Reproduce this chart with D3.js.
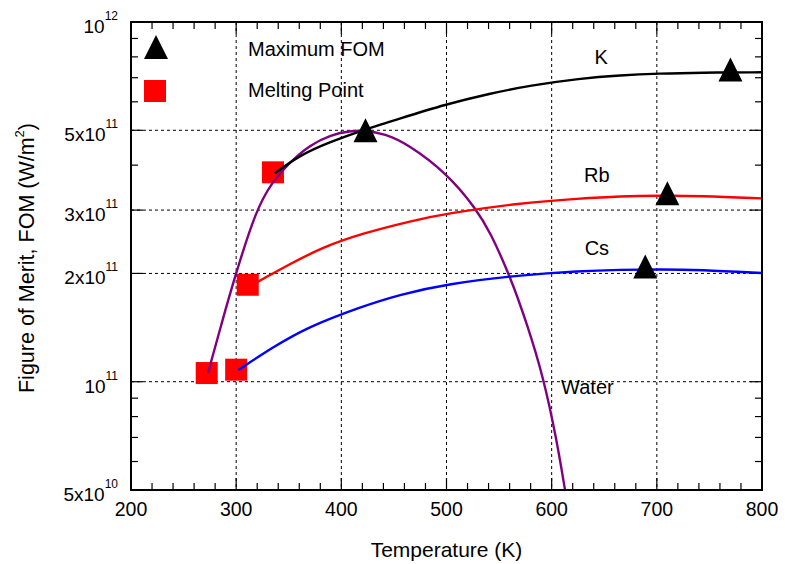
<!DOCTYPE html>
<html>
<head>
<meta charset="utf-8">
<script src="https://cdn.jsdelivr.net/npm/d3@7"></script>
<style>
  html, body { margin: 0; padding: 0; background: #fff; }
  svg { display: block; font-family: "Liberation Sans", Arial, Helvetica, sans-serif; }
</style>
</head>
<body>
<svg id="chart" width="785" height="564"></svg>
<script>
// Temperature axis ticks (K)
const xMajorTicks = [200, 300, 400, 500, 600, 700, 800];
const xGridTicks = [300, 400, 500, 600, 700];
const xMinorTicks = [220, 240, 260, 280, 320, 340, 360, 380, 420, 440, 460, 480,
                     520, 540, 560, 580, 620, 640, 660, 680, 720, 740, 760, 780];

// FOM axis ticks (W/m^2), labels as mantissa + power of ten
const yMajorTicks = [5e10, 1e11, 2e11, 3e11, 5e11, 1e12];
const yTickMantissa = ["5x10", "10", "2x10", "3x10", "5x10", "10"];
const yTickExponent = ["10", "11", "11", "11", "11", "12"];
const yGridTicks = [1e11, 2e11, 3e11, 5e11];
const yMinorTicks = [6e10, 7e10, 8e10, 9e10, 4e11, 6e11, 7e11, 8e11, 9e11];

// Figure-of-merit curves versus temperature
const waterT   = [273.2, 286.5, 299.8, 318.9, 334.1, 351.2, 370.2, 389.2, 408.2, 422.5, 441.5, 462.2,
                  500.2, 528.7, 541.4, 560.4, 576.3, 592.1, 604.8, 612.7];
const waterFOM = [1.057e11, 1.466e11, 2.005e11, 3.001e11, 3.591e11, 4.081e11, 4.550e11, 4.850e11, 4.977e11,
                  5.0e11, 4.882e11, 4.595e11, 3.804e11, 3.011e11, 2.608e11, 1.967e11, 1.456e11, 1.031e11,
                  6.886e10, 5.0e10];

const kT   = [336.9, 360.7, 389.2, 420.6, 455.8, 498.6, 541.4, 579.4, 626.9, 665, 703, 741, 800];
const kFOM = [3.797e11, 4.268e11, 4.638e11, 5.009e11, 5.392e11, 5.897e11, 6.328e11, 6.660e11, 6.965e11,
              7.109e11, 7.192e11, 7.233e11, 7.248e11];

const rbT   = [310.6, 332.2, 351.2, 382.9, 417.8, 468.1, 500.2, 569.9, 626.9, 665, 703, 741, 800];
const rbFOM = [1.828e11, 1.980e11, 2.125e11, 2.368e11, 2.574e11, 2.807e11, 2.935e11, 3.139e11, 3.230e11,
               3.279e11, 3.291e11, 3.287e11, 3.234e11];

const csT   = [302, 335.3, 367.1, 417.8, 455.8, 500.2, 569.9, 626.9, 665, 703, 741, 800];
const csFOM = [1.078e11, 1.249e11, 1.415e11, 1.613e11, 1.748e11, 1.869e11, 1.980e11, 2.032e11, 2.047e11,
               2.054e11, 2.047e11, 2.005e11];

// Maximum FOM markers (Water, K, Rb, Cs)
const maxT   = [423, 770, 710, 689];
const maxFOM = [5.0e11, 7.38e11, 3.34e11, 2.09e11];

// Melting point markers (Water, K, Rb, Cs)
const meltT   = [272, 335, 311, 300];
const meltFOM = [1.057e11, 3.82e11, 1.86e11, 1.08e11];

const svg = d3.select("#chart");
const plotL = 131, plotR = 762, plotT = 22, plotB = 490;

const x = d3.scaleLinear().domain([200, 800]).range([plotL, plotR]);
const y = d3.scaleLog().domain([5e10, 1e12]).range([plotB, plotT]);

// Dotted grid
const grid = svg.append("g").attr("stroke", "#000").attr("stroke-width", 1)
  .attr("stroke-dasharray", "3,3");
grid.selectAll("line.vx").data(xGridTicks).join("line")
  .attr("x1", d => x(d)).attr("x2", d => x(d)).attr("y1", plotT).attr("y2", plotB);
grid.selectAll("line.hy").data(yGridTicks).join("line")
  .attr("x1", plotL).attr("x2", plotR).attr("y1", d => y(d)).attr("y2", d => y(d));

// Inside ticks on all four sides
const ticks = svg.append("g").attr("stroke", "#000").attr("stroke-width", 1.2);
function xTicks(vals, len) {
  vals.forEach(v => {
    ticks.append("line").attr("x1", x(v)).attr("x2", x(v)).attr("y1", plotB).attr("y2", plotB - len);
    ticks.append("line").attr("x1", x(v)).attr("x2", x(v)).attr("y1", plotT).attr("y2", plotT + len);
  });
}
function yTicks(vals, len) {
  vals.forEach(v => {
    ticks.append("line").attr("x1", plotL).attr("x2", plotL + len).attr("y1", y(v)).attr("y2", y(v));
    ticks.append("line").attr("x1", plotR).attr("x2", plotR - len).attr("y1", y(v)).attr("y2", y(v));
  });
}
xTicks(xMinorTicks, 7);
xTicks(xMajorTicks, 12);
yTicks(yMinorTicks, 7);
yTicks(yMajorTicks, 12);

// Melting point squares (under the curves)
const sq = 22;
svg.append("g").selectAll("rect").data(meltT.map((t, i) => [t, meltFOM[i]])).join("rect")
  .attr("x", d => x(d[0]) - sq / 2).attr("y", d => y(d[1]) - sq / 2)
  .attr("width", sq).attr("height", sq).attr("fill", "#ff0000");

// Curves
const clip = svg.append("clipPath").attr("id", "plotclip");
clip.append("rect").attr("x", plotL).attr("y", plotT).attr("width", plotR - plotL).attr("height", plotB - plotT);

const line = d3.line().x(d => x(d[0])).y(d => y(d[1])).curve(d3.curveBasis);
const curves = [
  { t: waterT, v: waterFOM, color: "#800080" },
  { t: kT, v: kFOM, color: "#000000" },
  { t: rbT, v: rbFOM, color: "#ff0000" },
  { t: csT, v: csFOM, color: "#0000ff" }
];
const cg = svg.append("g").attr("clip-path", "url(#plotclip)");
curves.forEach(c => {
  cg.append("path").datum(c.t.map((t, i) => [t, c.v[i]]))
    .attr("d", line).attr("fill", "none").attr("stroke", c.color)
    .attr("stroke-width", 2.4).attr("stroke-linejoin", "round");
});

// Maximum FOM triangles (on top)
const tw = 24, th = 24;
function triPath(cx, cy) {
  return `M${cx - tw / 2},${cy + th / 2}L${cx + tw / 2},${cy + th / 2}L${cx},${cy - th / 2}Z`;
}
svg.append("g").selectAll("path").data(maxT.map((t, i) => [t, maxFOM[i]])).join("path")
  .attr("d", d => triPath(x(d[0]), y(d[1]))).attr("fill", "#000");

// Frame
svg.append("rect").attr("x", plotL).attr("y", plotT).attr("width", plotR - plotL).attr("height", plotB - plotT)
  .attr("fill", "none").attr("stroke", "#000").attr("stroke-width", 2);

// X tick labels
svg.append("g").selectAll("text").data(xMajorTicks).join("text")
  .attr("x", d => x(d)).attr("y", plotB + 26).attr("text-anchor", "middle")
  .attr("font-size", 19.5).attr("fill", "#000").text(d => d);

// Y tick labels with superscript exponents
yMajorTicks.forEach((v, i) => {
  const t = svg.append("text").attr("x", plotL - 13).attr("y", y(v) + 11)
    .attr("text-anchor", "end").attr("font-size", 19).attr("fill", "#000");
  t.append("tspan").text(yTickMantissa[i]);
  t.append("tspan").attr("font-size", 12).attr("dy", -13).text(yTickExponent[i]);
});

// Axis titles
svg.append("text").attr("x", (plotL + plotR) / 2).attr("y", 557).attr("text-anchor", "middle")
  .attr("font-size", 21).attr("fill", "#000").text("Temperature (K)");

const yt = svg.append("text").attr("transform", "translate(34,258) rotate(-90)")
  .attr("text-anchor", "middle").attr("font-size", 21.5).attr("fill", "#000");
yt.append("tspan").text("Figure of Merit, FOM (W/m");
yt.append("tspan").attr("font-size", 13).attr("dy", -10).text("2");
yt.append("tspan").attr("dy", 10).text(")");

// Curve labels
const labels = [
  { text: "K", t: 647, v: 8.0e11 },
  { text: "Rb", t: 643, v: 3.76e11 },
  { text: "Cs", t: 643, v: 2.35e11 },
  { text: "Water", t: 634, v: 9.69e10 }
];
svg.append("g").selectAll("text").data(labels).join("text")
  .attr("x", d => x(d.t)).attr("y", d => y(d.v)).attr("dy", "0.36em")
  .attr("text-anchor", "middle").attr("font-size", 20).attr("fill", "#000").text(d => d.text);

// Legend
const lg = svg.append("g");
lg.append("path").attr("d", triPath(156, 47)).attr("fill", "#000");
lg.append("rect").attr("x", 155 - sq / 2).attr("y", 91 - sq / 2).attr("width", sq).attr("height", sq).attr("fill", "#ff0000");
lg.append("text").attr("x", 248).attr("y", 56).attr("font-size", 20).attr("fill", "#000").text("Maximum FOM");
lg.append("text").attr("x", 248).attr("y", 97).attr("font-size", 20).attr("fill", "#000").text("Melting Point");
</script>
</body>
</html>
